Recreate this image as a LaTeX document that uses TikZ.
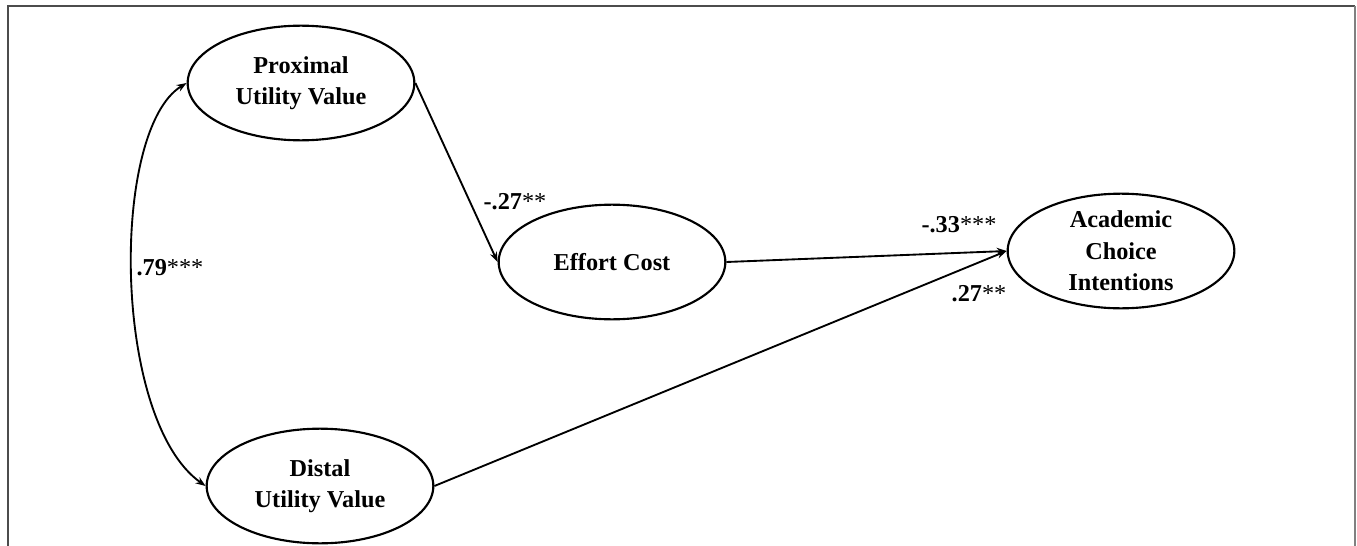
\documentclass[tikz,border=0pt]{standalone}
\usepackage{fontspec}
\setmainfont{Liberation Serif}
\usetikzlibrary{arrows.meta,shapes}

\begin{document}
\begin{tikzpicture}[x=0.75pt,y=-0.75pt,>={Stealth[length=7.5pt,width=5.5pt]},
latent/.style={draw,ellipse,line width=1.6pt,minimum width=170pt,minimum height=86pt,inner sep=0pt,align=center,font=\fontsize{18.2pt}{23.5pt}\bfseries},
path/.style={->,line width=1.4pt},
coef/.style={font=\fontsize{18.2pt}{21pt}\bfseries,inner sep=0pt}]
\useasboundingbox(0,0)rectangle(1357,546);
% frame
\draw[line width=0.9pt,black!70](8,546)--(8,6)--(1355,6);
\draw[line width=1.5pt,black!50](1355,6)--(1355,546);
% variables
\node[latent](prox)at(301,83){Proximal\\Utility Value};
\node[latent](dist)at(320,486){Distal\\Utility Value};
\node[latent](eff)at(612,262){Effort Cost};
\node[latent](acad)at(1121,251){Academic\\Choice\\Intentions};
% paths
\draw[path](prox.east)--(eff.west);
\draw[path](eff.east)--(acad.west);
\draw[path](dist.east)--(acad.west);
\draw[path,<->](prox.west)..controls(110,130)and(112,420)..(dist.west);
% coefficients
\node[coef](c1)at(170,268){.79{\mdseries***}};
\node[coef](c2)at(515,202){-.27{\mdseries**}};
\node[coef](c3)at(959,225){-.33{\mdseries***}};
\node[coef](c4)at(979,294){.27{\mdseries**}};
\end{tikzpicture}
\end{document}
